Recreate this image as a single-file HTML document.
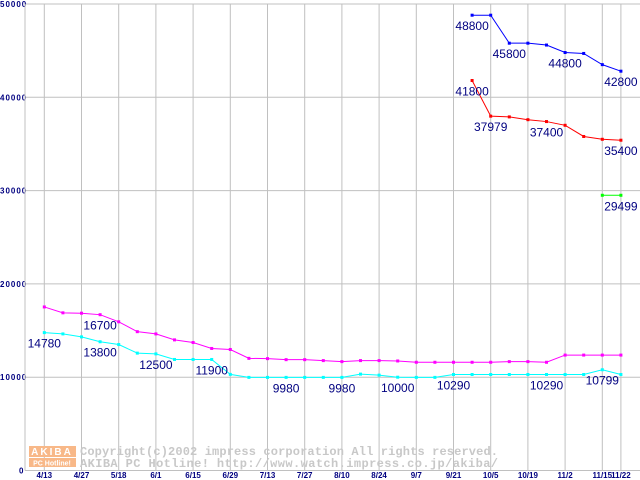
<!DOCTYPE html>
<html><head><meta charset="utf-8"><style>
html,body{margin:0;padding:0;background:#fff;}
svg{display:block;}
</style></head><body>
<svg id="chart" width="640" height="480" xmlns="http://www.w3.org/2000/svg" font-family="Liberation Sans, sans-serif">
<g id="grid"></g>
<g id="watermark">
<rect x="29" y="446" width="47" height="11" fill="#f8b888"/>
<text x="52" y="455" font-size="10" font-weight="bold" fill="#fff" text-anchor="middle" letter-spacing="2">AKIBA</text>
<rect x="29" y="458" width="47" height="9" fill="#f8b888"/>
<text x="52" y="465.5" font-size="7" font-weight="bold" fill="#fff" text-anchor="middle">PC Hotline!</text>
<text x="80" y="455" font-size="12" textLength="418" font-family="Liberation Mono, monospace" font-weight="bold" fill="#c8c8c8">Copyright(c)2002 impress corporation All rights reserved.</text>
<text x="80" y="467" font-size="12" textLength="418" font-family="Liberation Mono, monospace" font-weight="bold" fill="#c8c8c8">AKIBA PC Hotline!  http://www.watch.impress.co.jp/akiba/</text>
</g>
<g id="series"></g>
<g id="labels"></g>
</svg>
<script>
const xLabels = ["4/13","4/27","5/18","6/1","6/15","6/29","7/13","7/27","8/10","8/24","9/7","9/21","10/5","10/19","11/2","11/15","11/22"];
const xLabelIdx = [0,2,4,6,8,10,12,14,16,18,20,22,24,26,28,30,31];
const yTicks = [0,10000,20000,30000,40000,50000];
const magenta = [17530,16900,16860,16700,15940,14880,14640,14000,13720,13080,12970,12020,11990,11880,11880,11780,11670,11780,11780,11740,11600,11600,11600,11600,11600,11670,11670,11600,12370,12370,12370,12370];
const cyan = [14780,14640,14320,13800,13500,12580,12500,11900,11900,11900,10300,9980,9980,9980,9980,9980,9980,10330,10220,10000,9980,9980,10290,10290,10290,10290,10290,10290,10290,10290,10799,10290];
const blueStart = 23;
const blue = [48800,48800,45800,45800,45600,44800,44700,43500,42800];
const redStart = 23;
const red = [41800,37979,37900,37600,37400,37000,35800,35500,35400];
const greenStart = 30;
const green = [29499,29499];
const labelsLow = [[0,14780,"c"],[3,16700,"m"],[3,13800,"c"],[6,12500,"c"],[9,11900,"c"],[13,9980,"c"],[16,9980,"c"],[19,10000,"c"],[22,10290,"c"],[27,10290,"c"],[30,10799,"c"]];
const labelsHigh = [[23,48800,"b"],[25,45800,"b"],[28,44800,"b"],[31,42800,"b"],[23,41800,"r"],[24,37979,"r"],[27,37400,"r"],[31,35400,"r"],[31,29499,"g"]];

const X0=44.3, DX=18.6, Y0=470.5, YS=93.3/10000;
const xs = i => X0 + i*DX;
const ys = v => Y0 - v*YS;
const NS="http://www.w3.org/2000/svg";
function mk(tag, attrs, parent){const e=document.createElementNS(NS,tag);for(const k in attrs)e.setAttribute(k,attrs[k]);parent.appendChild(e);return e;}
const grid=document.getElementById('grid'), ser=document.getElementById('series'), lab=document.getElementById('labels');

yTicks.forEach(v=>{
  const l=mk('line',{x1:25,x2:640,y1:ys(v),y2:ys(v),stroke:'#c0c0c0','stroke-width':1},grid);
  
  
  const t=mk('text',{x:v===0?19:0,y:ys(v)+3,'font-size':8,'font-weight':'bold',fill:'#000080','letter-spacing':'1'},grid);
  t.textContent=v;
  
  
});
const ax=mk('line',{x1:25,x2:25,y1:ys(50000),y2:Y0,stroke:'#c0c0c0','stroke-width':1},grid);


xLabelIdx.forEach((idx,k)=>{
  const l=mk('line',{x1:xs(idx),x2:xs(idx),y1:ys(50000),y2:Y0,stroke:'#c0c0c0','stroke-width':1},grid);
  
  
  const t=mk('text',{x:xs(idx),y:478,'font-size':8,'font-weight':'bold',fill:'#000080','text-anchor':'middle'},grid);
  t.textContent=xLabels[k];
  
  
});

function drawSeries(vals,start,color,name){
  const pts=vals.map((v,i)=>xs(start+i)+','+ys(v)).join(' ');
  const pl=mk('polyline',{points:pts,fill:'none',stroke:color,'stroke-width':1},ser);
  
  
  vals.forEach((v,i)=>{
    const r=mk('rect',{x:xs(start+i)-1.5,y:ys(v)-1.5,width:3,height:3,fill:color},ser);
    
    
  });
}
drawSeries(magenta,0,'#ff00ff','magenta-series');
drawSeries(cyan,0,'#00ffff','cyan-series');
drawSeries(blue,blueStart,'#0000ff','blue-series');
drawSeries(red,redStart,'#ff0000','red-series');
drawSeries(green,greenStart,'#00ff00','green-series');

labelsLow.concat(labelsHigh).forEach(([i,v])=>{
  const t=mk('text',{x:xs(i),y:ys(v)+15,'font-size':12,fill:'#000080','text-anchor':'middle'},lab);
  t.textContent=v;
  
  
});
</script>
</body></html>
